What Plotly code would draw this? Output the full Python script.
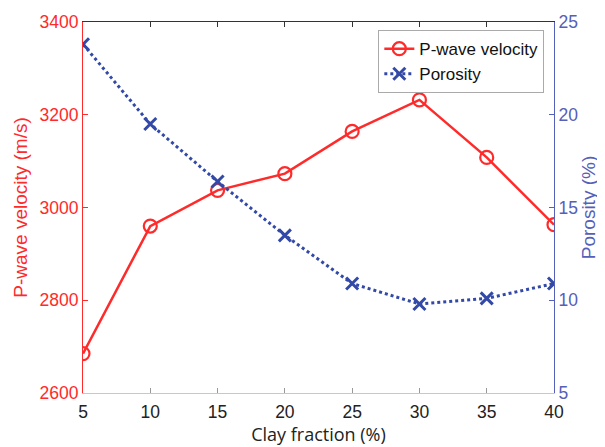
import plotly.graph_objects as go

clay = [5, 10, 15, 20, 25, 30, 35, 40]
vp = [2685, 2960, 3037, 3073, 3164, 3232, 3108, 2963]
porosity = [23.8, 19.5, 16.4, 13.5, 10.9, 9.8, 10.1, 10.9]

x_ticks = [5, 10, 15, 20, 25, 30, 35, 40]
vp_ticks = [2600, 2800, 3000, 3200, 3400]
por_ticks = [5, 10, 15, 20, 25]

RED = "#ff2a2a"
BLUE = "#3349a8"
BLUE_AX = "#5560b8"
FONT = "Liberation Sans, Arial, sans-serif"

fig = go.Figure()
fig.add_trace(go.Scatter(
    x=clay, y=vp, name="P-wave velocity", mode="lines+markers",
    line=dict(color=RED, width=2.5),
    marker=dict(symbol="circle-open", size=13, color=RED, line=dict(width=2.2, color=RED)),
    yaxis="y"))
fig.add_trace(go.Scatter(
    x=clay, y=porosity, name="Porosity", mode="lines+markers",
    line=dict(color=BLUE, width=3, dash="dot"),
    marker=dict(symbol="x-thin-open", size=12, color=BLUE, line=dict(width=3, color=BLUE)),
    yaxis="y2"))
# invisible trace to carry the top mirror axis
fig.add_trace(go.Scatter(x=clay, y=vp, xaxis="x2", yaxis="y", mode="none",
                         showlegend=False, hoverinfo="skip"))

# page body has an 8px margin; figure spans 8..605 x 8..447
fig.update_layout(
    width=597, height=439,
    margin=dict(l=75, r=51, t=14, b=54),
    paper_bgcolor="white", plot_bgcolor="white",
    font=dict(family=FONT, size=17, color="#222"),
    xaxis=dict(
        range=[5, 40], tickvals=x_ticks, ticktext=[str(v) for v in x_ticks],
        ticks="inside", ticklen=5, tickcolor="#999", showline=True, linecolor="#c8c8c8",
        linewidth=1, showgrid=False, zeroline=False, automargin=False,
        tickfont=dict(size=17.5, color="#222"), ticklabelstandoff=3,
        title=dict(text="Clay fraction (%)", font=dict(family="Open Sans, sans-serif", size=18, color="#222"),
                   standoff=6),
    ),
    xaxis2=dict(
        range=[5, 40], tickvals=x_ticks, overlaying="x", side="top",
        ticks="inside", ticklen=5, tickcolor="#333", showline=True, linecolor="#333",
        linewidth=1, showticklabels=False, showgrid=False, zeroline=False, automargin=False,
    ),
    yaxis=dict(
        range=[2600, 3400], tickvals=vp_ticks, ticktext=[str(v) for v in vp_ticks],
        ticks="inside", ticklen=5, tickcolor=RED, showline=True, linecolor=RED, linewidth=1,
        showgrid=False, zeroline=False, automargin=False,
        tickfont=dict(size=17.5, color=RED),
        title=dict(text="P-wave velocity (m/s)", font=dict(size=19, color=RED), standoff=6),
    ),
    yaxis2=dict(
        range=[5, 25], tickvals=por_ticks, ticktext=[str(v) for v in por_ticks],
        overlaying="y", side="right",
        ticks="inside", ticklen=5, tickcolor=BLUE_AX, showline=True, linecolor=BLUE_AX, linewidth=1,
        showgrid=False, zeroline=False, automargin=False,
        tickfont=dict(size=17.5, color=BLUE_AX),
        title=dict(text="Porosity (%)", font=dict(size=19, color=BLUE_AX), standoff=2),
    ),
    legend=dict(
        x=0.627, y=0.978, xanchor="left", yanchor="top",
        bgcolor="white", bordercolor="#aaa", borderwidth=1,
        font=dict(size=17, color="#111"), tracegroupgap=0,
        itemwidth=30,
    ),
    showlegend=True,
)

fig.write_html("out.html")
